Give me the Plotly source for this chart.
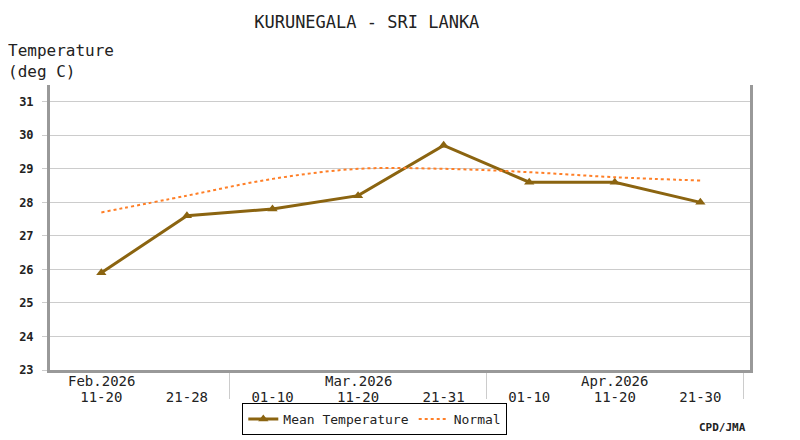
"""Kurunegala ten-day mean temperature vs normal."""

import plotly.graph_objects as go

STATION = "KURUNEGALA - SRI LANKA"
PERIODS = ["11-20", "21-28", "01-10", "11-20", "21-31", "01-10", "11-20", "21-30"]
MONTHS = ["Feb.2026", "", "", "Mar.2026", "", "", "Apr.2026", ""]
MEAN_TEMP = [25.9, 27.6, 27.8, 28.2, 29.7, 28.6, 28.6, 28.0]
NORMAL = [27.7, 28.2, 28.7, 29.0, 29.0, 28.9, 28.75, 28.65]
Y_TICKS = [23, 24, 25, 26, 27, 28, 29, 30, 31]

MONO = "DejaVu Sans Mono"
BROWN = "#8B6410"
ORANGE = "#FF7F27"

x = list(range(len(PERIODS)))

# month separators: after the last decade of each month
separators = [i + 0.5 for i in range(len(PERIODS))
              if i + 1 == len(PERIODS) or PERIODS[i + 1] == "01-10"]

fig = go.Figure()
fig.add_trace(
    go.Scatter(
        x=x,
        y=MEAN_TEMP,
        mode="lines+markers",
        name="Mean Temperature",
        line=dict(color=BROWN, width=3),
        marker=dict(symbol="triangle-up", size=9, color=BROWN),
    )
)
fig.add_trace(
    go.Scatter(
        x=x,
        y=NORMAL,
        mode="lines",
        name="Normal",
        line=dict(color=ORANGE, width=2, dash="dot", shape="spline"),
    )
)

for i, m in enumerate(MONTHS):
    if m:
        fig.add_annotation(
            x=i, y=0.0, xref="x", yref="paper", text=m, showarrow=False,
            yanchor="top", yshift=-1, font=dict(family=MONO, size=14, color="#222"),
        )

# page has an 8px body margin, so the figure is laid out 8px smaller
fig.add_annotation(
    x=0, y=1.0, xref="paper", yref="paper", xanchor="left", yanchor="bottom",
    text="Temperature<br>(deg C)", showarrow=False, align="left",
    font=dict(family=MONO, size=16, color="#222"), xshift=-44, yshift=2,
)
fig.add_annotation(
    x=0.997, y=-0.2, xref="paper", yref="paper", xanchor="right", yanchor="middle",
    text="<b>CPD/JMA</b>", showarrow=False,
    font=dict(family=MONO, size=11, color="#222"),
)

fig.update_layout(
    width=792,
    height=432,
    margin=dict(l=42, r=50, t=77, b=70, autoexpand=False),
    paper_bgcolor="white",
    plot_bgcolor="white",
    font=dict(family=MONO, size=14, color="#222"),
    title=dict(
        text=STATION, x=0.453, xanchor="center", y=0.968, yanchor="middle",
        font=dict(family=MONO, size=17, color="#222"),
    ),
    showlegend=True,
    legend=dict(
        orientation="h", x=0.464, xanchor="center", y=-0.172, yanchor="middle",
        bordercolor="black", borderwidth=1, font=dict(family=MONO, size=13),
        itemwidth=30, tracegroupgap=0,
    ),
    xaxis=dict(
        range=[-0.6, 7.58],
        automargin=False,
        tickmode="array",
        tickvals=x,
        ticktext=PERIODS,
        ticks="",
        ticklabelstandoff=12,
        showgrid=False,
        zeroline=False,
        showline=True,
        linecolor="#999",
        linewidth=3,
        minor=dict(
            tickmode="array", tickvals=separators, ticks="outside",
            ticklen=26, tickcolor="#ccc", tickwidth=1, showgrid=False,
        ),
    ),
    yaxis=dict(
        range=[23, 31.5],
        automargin=False,
        tickmode="array",
        tickvals=Y_TICKS,
        ticktext=[f"<b>{v}</b>" for v in Y_TICKS],
        ticks="outside",
        ticklen=5,
        tickcolor="#ccc",
        tickfont=dict(family=MONO, size=12),
        ticklabelstandoff=6,
        showgrid=True,
        gridcolor="#cccccc",
        gridwidth=1,
        zeroline=False,
        showline=True,
        mirror=True,
        linecolor="#999",
        linewidth=3,
    ),
)

fig.write_html("out.html")
